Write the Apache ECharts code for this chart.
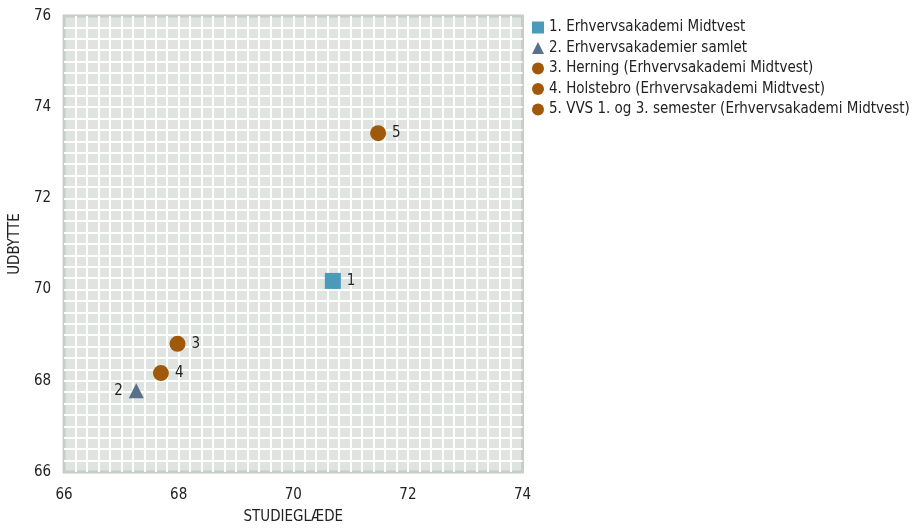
<!DOCTYPE html>
<html><head><meta charset="utf-8">
<script src="https://cdn.jsdelivr.net/npm/echarts@6/dist/echarts.min.js"></script>
<style>html,body{margin:0;padding:0;background:#fff}#c{width:915px;height:530px}</style>
</head><body><div id="c"></div>
<script>
const seriesNames = ['1. Erhvervsakademi Midtvest','2. Erhvervsakademier samlet','3. Herning (Erhvervsakademi Midtvest)','4. Holstebro (Erhvervsakademi Midtvest)','5. VVS 1. og 3. semester (Erhvervsakademi Midtvest)'];
const pointLabels = ['1','2','3','4','5'];
const studieglaede = [70.69, 67.26, 67.98, 67.69, 71.48];
const udbytte = [70.19, 67.78, 68.81, 68.17, 73.43];
const xTicks = [66, 68, 70, 72, 74];
const yTicks = [66, 68, 70, 72, 74, 76];

const colors = ['#4a9aba','#587089','#a0580a','#a0580a','#a0580a'];
const symbols = ['rect','triangle','circle','circle','circle'];
const labelPos = ['right','left','right','right','right'];
const font = '"DejaVu Sans Condensed", "DejaVu Sans", Verdana, sans-serif';

const chart = echarts.init(document.getElementById('c'), null, {renderer:'canvas'});
const series = seriesNames.map((n,i)=>({
  name:n, type:'scatter', symbol:symbols[i], symbolSize: i===1?15:16,
  itemStyle:{color:colors[i], opacity:1},
  label:{show:true, formatter:pointLabels[i], position:labelPos[i], distance:6, color:'#222', fontFamily:font, fontSize:15},
  data:[[studieglaede[i], udbytte[i]]]
}));
const gridLine = {show:true,showMinLine:false,showMaxLine:false,lineStyle:{color:'#ffffff',width:2}};
chart.setOption({
  animation:false,
  textStyle:{fontFamily:font},
  grid:{left:63.5,right:392.5,top:16,bottom:52.5,show:true,backgroundColor:'#dfe4e0',borderColor:'#c5cec7',borderWidth:3},
  legend:{orient:'vertical', left:527, top:15, itemWidth:12, itemHeight:12, itemGap:5.5,
    textStyle:{fontFamily:font,fontSize:15,color:'#222'},
    data: seriesNames.map((n,i)=>({name:n, icon:symbols[i]}))},
  xAxis:{type:'value', min:xTicks[0], max:xTicks[xTicks.length-1], interval:2,
    name:'STUDIEGLÆDE', nameLocation:'middle', nameGap:38,
    nameTextStyle:{fontFamily:font,fontSize:15,color:'#222'},
    axisLine:{show:false}, axisTick:{show:false},
    axisLabel:{fontFamily:font,fontSize:15,color:'#222',margin:16},
    splitLine:gridLine,
    minorTick:{show:false,splitNumber:10},
    minorSplitLine:{show:true,lineStyle:{color:'#ffffff',width:2}}},
  yAxis:{type:'value', min:yTicks[0], max:yTicks[yTicks.length-1], interval:2,
    name:'UDBYTTE', nameLocation:'middle', nameGap:36,
    nameTextStyle:{fontFamily:font,fontSize:15,color:'#222'},
    axisLine:{show:false}, axisTick:{show:false},
    axisLabel:{fontFamily:font,fontSize:15,color:'#222',margin:13},
    splitLine:gridLine,
    minorTick:{show:false,splitNumber:8},
    minorSplitLine:{show:true,lineStyle:{color:'#ffffff',width:2}}},
  series
});
</script></body></html>
